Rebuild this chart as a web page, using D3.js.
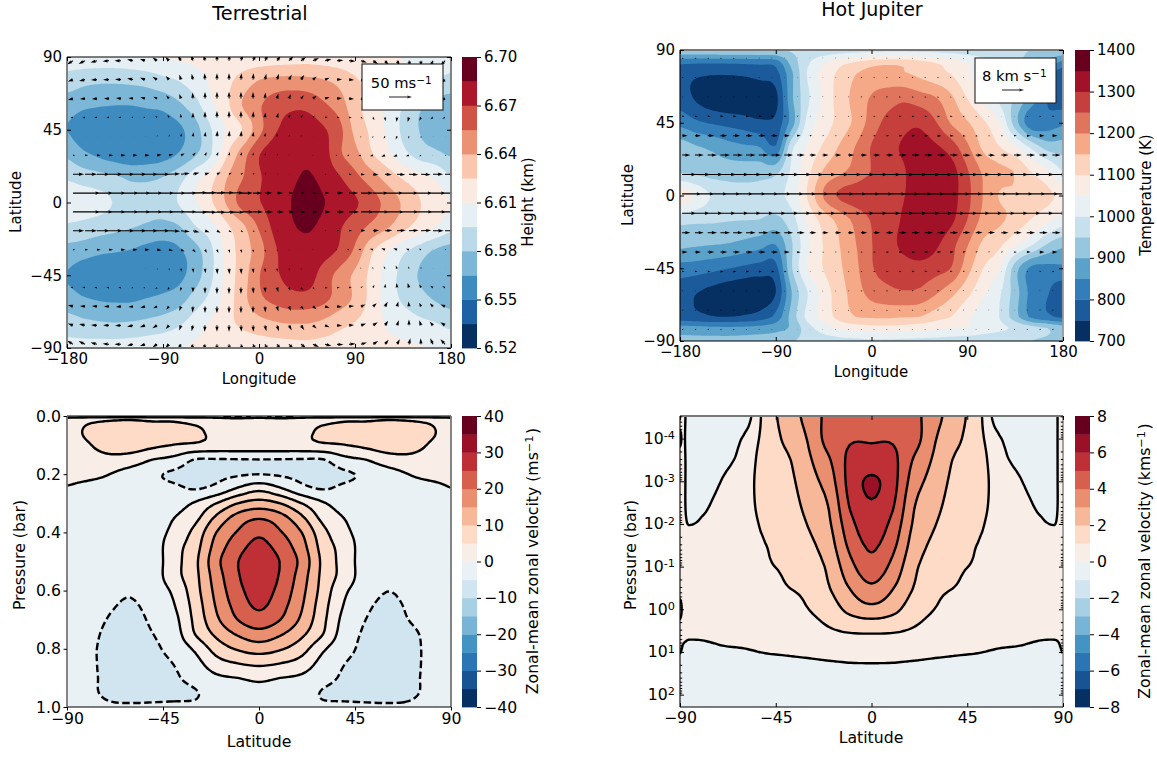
<!DOCTYPE html>
<html>
<head>
<meta charset="utf-8">
<script src="https://cdnjs.cloudflare.com/ajax/libs/d3/7.8.5/d3.min.js"></script>
<style>
body { margin: 0; background: #fff; }
text { font-family: "DejaVu Sans", sans-serif; fill: #000; }
</style>
</head>
<body>
<div id="chart"></div>
<script>
var rdbuStops = ["#053061", "#2166ac", "#4393c3", "#92c5de", "#d1e5f0", "#f7f7f7", "#fddbc7", "#f4a582", "#d6604d", "#b2182b", "#67001f"];

// Terrestrial height field (km), rows from north to south
var terrLevels = [6.52, 6.535, 6.55, 6.565, 6.58, 6.595, 6.61, 6.625, 6.64, 6.655, 6.67, 6.685, 6.70];
var terrGridLon = [-180, -165, -150, -135, -120, -105, -90, -75, -60, -45, -30, -15, 0, 15, 30, 45, 60, 75, 90, 105, 120, 135, 150, 165, 180];
var terrGridLat = [90, 75, 60, 45, 30, 15, 0, -15, -30, -45, -60, -75, -90];
var terrHeight = [
  [6.603,6.604,6.604,6.604,6.605,6.608,6.611,6.612,6.613,6.613,6.614,6.615,6.616,6.617,6.618,6.619,6.618,6.617,6.616,6.614,6.612,6.610,6.608,6.606,6.604],
  [6.588,6.584,6.582,6.582,6.583,6.585,6.590,6.595,6.603,6.612,6.621,6.632,6.641,6.645,6.646,6.645,6.642,6.636,6.627,6.621,6.615,6.608,6.601,6.595,6.589],
  [6.572,6.568,6.566,6.565,6.565,6.567,6.569,6.577,6.589,6.607,6.622,6.641,6.653,6.663,6.667,6.666,6.658,6.648,6.630,6.618,6.607,6.595,6.583,6.574,6.572],
  [6.565,6.556,6.553,6.552,6.552,6.553,6.556,6.562,6.574,6.594,6.612,6.626,6.650,6.668,6.675,6.678,6.672,6.660,6.636,6.622,6.608,6.592,6.580,6.570,6.565],
  [6.577,6.568,6.562,6.557,6.555,6.556,6.559,6.566,6.578,6.594,6.624,6.648,6.669,6.678,6.681,6.682,6.677,6.658,6.645,6.627,6.614,6.600,6.589,6.584,6.578],
  [6.593,6.589,6.586,6.583,6.578,6.578,6.581,6.590,6.605,6.620,6.640,6.655,6.668,6.678,6.682,6.687,6.681,6.672,6.660,6.648,6.635,6.624,6.616,6.609,6.597],
  [6.609,6.604,6.600,6.594,6.588,6.585,6.586,6.596,6.608,6.623,6.642,6.662,6.669,6.678,6.685,6.695,6.686,6.679,6.672,6.662,6.650,6.638,6.626,6.618,6.610],
  [6.592,6.590,6.587,6.584,6.581,6.578,6.576,6.579,6.594,6.604,6.622,6.637,6.657,6.674,6.683,6.687,6.681,6.672,6.662,6.652,6.642,6.630,6.619,6.611,6.600],
  [6.575,6.572,6.568,6.566,6.564,6.560,6.558,6.563,6.574,6.592,6.616,6.632,6.648,6.668,6.677,6.680,6.676,6.668,6.652,6.628,6.612,6.598,6.588,6.578,6.573],
  [6.564,6.556,6.553,6.552,6.552,6.553,6.556,6.561,6.573,6.592,6.616,6.633,6.654,6.667,6.675,6.677,6.664,6.650,6.637,6.621,6.604,6.590,6.579,6.571,6.566],
  [6.572,6.567,6.564,6.563,6.563,6.566,6.569,6.574,6.587,6.600,6.617,6.635,6.651,6.659,6.664,6.664,6.659,6.648,6.637,6.620,6.604,6.593,6.586,6.579,6.574],
  [6.587,6.584,6.582,6.581,6.582,6.584,6.587,6.593,6.603,6.612,6.621,6.628,6.634,6.638,6.640,6.640,6.636,6.629,6.624,6.617,6.609,6.604,6.599,6.596,6.590],
  [6.600,6.600,6.601,6.601,6.602,6.604,6.606,6.609,6.612,6.614,6.615,6.616,6.617,6.618,6.619,6.620,6.619,6.618,6.616,6.615,6.613,6.612,6.611,6.610,6.610]
];

// Terrestrial winds (m/s)
var terrWindLon = [-174.4,-163.1,-151.9,-140.6,-129.4,-118.1,-106.9,-95.6,-84.4,-73.1,-61.9,-50.6,-39.4,-28.1,-16.9,-5.6,5.6,16.9,28.1,39.4,50.6,61.9,73.1,84.4,95.6,106.9,118.1,129.4,140.6,151.9,163.1,174.4];
var terrWindLat = [87.7, 76, 64.3, 52.6, 40.9, 29.2, 17.5, 5.8, -5.8, -17.5, -29.2, -40.9, -52.6, -64.3, -76, -87.7];
var terrWindU = [
  [-13,-14,-14,-14,-14,-13,-11,-10,-8,-7,-4,-3,0,1,4,6,7,8,10,11,13,14,14,14,13,11,8,6,3,-1,-6,-10],
  [-11,-13,-13,-13,-13,-13,-11,-10,-7,-4,-3,-1,0,0,1,1,3,4,6,7,8,10,11,11,11,10,7,4,0,-4,-7,-10],
  [-11,-11,-11,-11,-11,-10,-10,-8,-6,-4,-1,0,0,0,0,0,1,3,4,6,8,10,11,11,10,8,6,3,-1,-4,-7,-10],
  [-6,-6,-6,-6,-6,-4,-4,-4,-3,-1,0,0,0,0,0,1,1,3,3,4,4,6,6,6,4,3,1,-1,-3,-4,-6,-6],
  [1,1,1,1,1,1,1,1,1,1,1,1,1,1,1,1,1,1,1,1,1,1,1,0,-1,-1,-3,-3,-1,0,1,1],
  [5,7,8,9,10,10,10,10,9,8,6,4,3,2,2,1,1,1,1,1,0,-1,-3,-5,-6,-7,-8,-8,-7,-4,-1,3],
  [24,26,28,30,30,30,29,28,24,19,14,10,8,6,5,4,3,2,2,2,2,3,4,6,9,12,15,18,20,21,22,23],
  [60,62,64,66,66,66,65,64,62,58,52,46,38,32,26,20,16,13,10,8,8,10,14,20,27,34,41,47,52,55,57,59],
  [60,62,64,66,66,66,65,64,62,58,52,46,40,34,28,22,18,15,12,10,10,12,16,22,29,36,43,48,53,56,58,59],
  [24,26,28,30,30,30,29,28,24,19,14,10,8,6,5,4,3,2,2,2,2,3,5,7,10,13,16,19,21,22,23,24],
  [5,7,8,9,10,10,10,10,9,8,6,4,3,2,2,1,1,1,1,1,0,-1,-3,-5,-6,-7,-8,-8,-7,-5,-1,3],
  [1,1,1,1,1,1,1,1,1,1,1,1,1,1,1,1,1,1,1,1,1,1,1,0,-1,-1,-3,-3,-1,0,1,1],
  [-6,-6,-6,-6,-6,-4,-4,-4,-3,-1,0,0,0,0,0,1,1,3,3,4,4,6,6,6,4,3,1,-1,-3,-4,-6,-6],
  [-11,-11,-11,-11,-11,-10,-10,-8,-6,-4,-1,0,0,0,0,0,1,3,4,6,8,10,11,11,10,8,6,3,-1,-4,-7,-10],
  [-11,-13,-13,-13,-13,-13,-11,-10,-7,-4,-3,-1,0,0,1,1,3,4,6,7,8,10,11,11,11,10,7,4,0,-4,-7,-10],
  [-13,-14,-14,-14,-14,-13,-11,-10,-8,-7,-4,-3,0,1,4,6,7,8,10,11,13,14,14,14,13,11,8,6,3,-1,-6,-10]
];
var terrWindV = [
  [-8,-7,-4,-1,0,3,4,7,8,11,13,13,14,14,14,13,13,11,10,8,6,4,1,-1,-4,-7,-10,-11,-13,-13,-13,-11],
  [-4,-3,-1,0,1,3,4,6,8,11,13,14,14,14,14,14,13,13,11,10,7,4,1,-1,-4,-7,-10,-11,-13,-11,-8,-7],
  [-3,-1,-1,0,1,1,3,4,7,10,13,14,15,15,15,14,13,11,10,7,6,3,1,-1,-4,-7,-10,-11,-11,-8,-7,-4],
  [-1,-1,0,0,0,1,1,3,6,8,11,13,14,14,14,13,11,10,7,6,4,1,0,-1,-3,-6,-8,-10,-10,-7,-4,-3],
  [0,0,0,0,0,0,1,3,4,7,9,10,12,12,12,10,8,7,4,3,1,0,0,-1,-3,-4,-5,-7,-5,-4,-1,0],
  [0,0,0,0,0,0,0,1,2,4,6,7,7,7,7,6,5,4,2,1,0,0,0,-1,-1,-2,-3,-3,-2,-2,-1,0],
  [0,0,0,0,0,0,0,0,1,2,3,3,4,3,3,2,2,1,0,0,0,0,-1,-1,-1,-1,-1,-1,-1,-1,0,0],
  [0,0,0,0,0,0,0,0,0,1,1,1,1,1,0,0,0,0,0,0,0,0,0,0,0,0,0,0,0,0,0,0],
  [0,0,0,0,0,0,0,0,0,-1,-1,-1,-1,-1,0,0,0,0,0,0,0,0,0,0,0,0,0,0,0,0,0,0],
  [0,0,0,0,0,0,0,0,-1,-2,-3,-3,-4,-3,-3,-2,-2,-1,0,0,0,0,1,1,1,1,1,1,1,1,0,0],
  [0,0,0,0,0,0,0,-1,-2,-4,-6,-7,-7,-7,-7,-6,-5,-4,-2,-1,0,0,0,1,1,2,3,3,2,2,1,0],
  [0,0,0,0,0,0,-1,-3,-4,-7,-9,-10,-12,-12,-12,-10,-8,-7,-4,-3,-1,0,0,1,3,4,5,7,5,4,1,0],
  [1,1,0,0,0,-1,-1,-3,-6,-8,-11,-13,-14,-14,-14,-13,-11,-10,-7,-6,-4,-1,0,1,3,6,8,10,10,7,4,3],
  [3,1,1,0,-1,-1,-3,-4,-7,-10,-13,-14,-15,-15,-15,-14,-13,-11,-10,-7,-6,-3,-1,1,4,7,10,11,11,8,7,4],
  [4,3,1,0,-1,-3,-4,-6,-8,-11,-13,-14,-14,-14,-14,-14,-13,-13,-11,-10,-7,-4,-1,1,4,7,10,11,13,11,8,7],
  [8,7,4,1,0,-3,-4,-7,-8,-11,-13,-13,-14,-14,-14,-13,-13,-11,-10,-8,-6,-4,-1,1,4,7,10,11,13,13,13,11]
];

// Hot Jupiter temperature field (K)
var hotLevels = [700, 750, 800, 850, 900, 950, 1000, 1050, 1100, 1150, 1200, 1250, 1300, 1350, 1400];
var hotGridLon = [-180, -165, -150, -135, -120, -105, -90, -75, -60, -45, -30, -15, 0, 15, 30, 45, 60, 75, 90, 105, 120, 135, 150, 165, 180];
var hotGridLat = [90, 82, 75, 60, 45, 30, 15, 0, -15, -30, -45, -60, -75, -82, -90];
var hotTemperature = [
  [940,942,943,944,945,946,948,955,965,970,975,980,985,986,987,985,985,980,975,970,960,955,950,945,940],
  [810,805,805,805,808,812,820,918,992,1042,1082,1108,1128,1138,1135,1120,1100,1075,1050,1020,990,960,930,890,830],
  [762,755,752,752,755,765,780,890,1005,1068,1112,1149,1170,1170,1158,1140,1120,1100,1060,1020,980,940,890,810,770],
  [775,745,722,712,710,712,735,890,990,1065,1120,1168,1205,1225,1240,1225,1205,1160,1100,1045,990,940,880,800,775],
  [835,810,795,785,775,760,765,875,1018,1072,1118,1163,1222,1265,1285,1290,1255,1195,1155,1108,1055,925,815,820,840],
  [925,905,890,870,858,850,805,985,1055,1108,1155,1202,1253,1285,1305,1320,1308,1275,1210,1140,1102,1058,990,930,925],
  [940,935,928,925,925,928,935,1010,1085,1155,1188,1218,1252,1280,1296,1325,1335,1320,1255,1192,1165,1147,1098,1060,1000],
  [1085,1040,995,975,968,970,985,1020,1105,1205,1258,1275,1285,1292,1298,1325,1335,1320,1265,1198,1148,1140,1125,1110,1090],
  [965,960,957,953,951,949,935,980,1060,1120,1168,1215,1254,1278,1305,1325,1330,1310,1250,1185,1160,1132,1098,1065,1030],
  [915,908,903,898,885,870,853,945,1040,1103,1150,1198,1248,1280,1312,1338,1310,1268,1205,1140,1112,1062,1012,950,915],
  [830,825,815,802,790,780,785,945,1052,1102,1142,1188,1245,1268,1278,1280,1270,1248,1170,1100,1055,925,840,835,840],
  [770,752,735,722,712,712,750,900,1000,1072,1128,1175,1218,1235,1245,1240,1208,1165,1115,1060,1010,925,835,805,770],
  [770,762,752,750,755,770,815,920,1015,1068,1118,1150,1158,1160,1155,1150,1125,1100,1060,1025,1000,920,840,810,790],
  [870,865,862,860,862,868,880,910,980,1025,1058,1072,1080,1082,1078,1070,1060,1052,1045,1025,1010,993,970,950,925],
  [915,915,915,915,918,922,930,945,965,975,982,988,992,992,990,988,985,980,975,970,965,958,950,940,930]
];

// Hot Jupiter winds (hundreds of m/s)
var hotWindLon = [-178,-166,-154,-142,-130,-118,-106,-94,-82,-70,-58,-46,-34,-22,-10,2,14,26,38,50,62,74,86,98,110,122,134,146,158,170];
var hotWindLat = [85, 73, 61, 49, 37, 25, 13, 1, -11, -23, -35, -47, -59, -71, -83];
var hotWindU = [
  [6,6,6,6,6,5,5,4,3,2,2,3,4,5,5,5,5,5,5,5,5,5,4,3,3,3,4,5,6,6],
  [5,6,6,6,6,5,5,4,3,2,2,3,4,5,6,6,6,6,6,6,6,5,4,3,3,3,3,4,5,5],
  [4,5,5,5,5,5,4,3,3,2,3,3,4,5,6,6,7,7,7,7,6,5,4,2,2,1,1,2,3,4],
  [9,10,11,12,12,12,12,11,9,6,4,4,4,5,6,7,8,9,10,10,10,9,7,5,3,2,3,5,7,8],
  [20,22,24,25,25,25,25,24,20,13,8,6,6,6,7,8,10,12,13,14,14,13,10,8,6,7,10,14,18,19],
  [30,32,34,35,35,35,35,34,32,28,24,22,22,22,23,24,26,28,29,30,30,29,27,25,24,26,28,30,30,30],
  [52,55,56,57,57,56,55,54,53,52,50,49,49,49,50,51,52,54,55,56,55,55,54,53,52,52,52,52,52,52],
  [72,73,74,75,75,75,74,74,73,72,71,70,70,70,71,72,73,74,75,75,75,74,73,72,71,71,71,71,71,72],
  [52,55,56,57,57,56,55,54,53,52,50,49,49,49,50,51,52,54,55,56,56,55,54,53,52,52,52,52,52,52],
  [30,32,34,35,35,35,35,34,32,28,24,22,22,22,23,24,26,28,29,30,30,29,27,25,24,26,28,30,30,30],
  [20,22,24,25,25,25,25,24,20,13,8,6,6,6,7,8,10,12,13,14,14,13,10,8,6,7,10,14,18,19],
  [9,10,11,12,12,12,12,11,9,6,4,4,4,5,6,7,8,9,10,10,10,9,7,5,3,2,3,5,7,8],
  [4,5,5,5,5,5,4,3,3,2,3,3,4,5,6,6,7,7,7,7,6,5,4,2,2,1,1,2,3,4],
  [5,6,6,6,6,5,5,4,3,2,2,3,4,5,6,6,6,6,6,6,6,5,4,3,3,3,3,4,5,5],
  [6,6,6,6,6,5,5,4,3,2,2,3,4,5,5,5,5,5,5,5,5,5,4,3,3,3,4,5,6,6]
];
var hotWindV = [
  [-3,-3,-3,-2,-2,-1,0,1,2,2,2,1,1,0,0,0,0,-1,-1,-1,-2,-2,-2,-3,-3,-3,-3,-3,-3,-3],
  [-1,-1,-1,-1,-1,0,0,1,2,2,2,1,0,0,0,0,0,-1,-1,-1,-2,-2,-3,-3,-3,-2,-2,-2,-2,-1],
  [-1,0,0,0,0,0,0,1,2,3,2,2,1,0,0,0,0,-1,-1,-1,-2,-2,-3,-3,-2,-2,-2,-1,-1,-1],
  [0,0,0,0,0,0,0,0,1,2,2,1,1,0,0,0,0,0,-1,-1,-1,-2,-2,-2,-2,-1,-1,0,0,0],
  [0,0,0,0,0,0,0,0,0,1,1,1,0,0,0,0,0,0,0,0,-1,-1,-2,-2,-1,-1,0,0,0,0],
  [0,0,0,0,0,0,0,0,0,0,0,0,0,0,0,0,0,0,0,0,0,0,-1,-1,-1,0,0,0,0,0],
  [0,0,0,0,0,0,0,0,0,0,0,0,0,0,0,0,0,0,0,0,0,0,0,0,0,0,0,0,0,0],
  [0,0,0,0,0,0,0,0,0,0,0,0,0,0,0,0,0,0,0,0,0,0,0,0,0,0,0,0,0,0],
  [0,0,0,0,0,0,0,0,0,0,0,0,0,0,0,0,0,0,0,0,0,0,0,0,0,0,0,0,0,0],
  [0,0,0,0,0,0,0,0,0,0,0,0,0,0,0,0,0,0,0,0,0,0,1,1,1,0,0,0,0,0],
  [0,0,0,0,0,0,0,0,0,-1,-1,-1,0,0,0,0,0,0,0,0,1,1,2,2,1,1,0,0,0,0],
  [0,0,0,0,0,0,0,0,-1,-2,-2,-1,-1,0,0,0,0,0,1,1,1,2,2,2,2,1,1,0,0,0],
  [1,0,0,0,0,0,0,-1,-2,-3,-2,-2,-1,0,0,0,0,1,1,1,2,2,3,3,2,2,2,1,1,1],
  [1,1,1,1,1,0,0,-1,-2,-2,-2,-1,0,0,0,0,0,1,1,1,2,2,3,3,3,2,2,2,2,1],
  [3,3,3,2,2,1,0,-1,-2,-2,-2,-1,-1,0,0,0,0,1,1,1,2,2,2,3,3,3,3,3,3,3]
];

// Terrestrial zonal-mean zonal velocity (m/s), rows by pressure
var terrZonalLevels = [-40, -35, -30, -25, -20, -15, -10, -5, 0, 5, 10, 15, 20, 25, 30, 35, 40];
var terrZonalLines = [-5, 0, 5, 10, 15, 20, 25];
var terrZonalLat = [-90, -80, -70, -60, -50, -40, -30, -20, -10, 0, 10, 20, 30, 40, 50, 60, 70, 80, 90];
var terrZonalP = [0, 0.01, 0.05, 0.1, 0.15, 0.2, 0.25, 0.3, 0.35, 0.4, 0.45, 0.5, 0.55, 0.6, 0.65, 0.7, 0.75, 0.8, 0.85, 0.9, 0.95, 1];
var terrZonal = [
  [-3,-3,-3,-3,-3,-3,-3,-3,-8,-3,-8,-3,-3,-3,-3,-3,-3,-3,-3],
  [2,3.5,4.2,4.5,4,4,3,2,2,2,2,2,3,4,4,4.5,4.2,3.5,2],
  [3,5.8,7.5,8,7,6.5,5.8,3.8,3.8,3.5,3.8,3.8,5.8,6.5,7,8,7.5,5.8,3],
  [3,4.6,7.5,7.5,6,4.9,4.3,3.5,3.5,3.5,3.5,3.5,4.3,4.9,6,7.5,7.5,4.6,3],
  [2,2.5,3.2,2.5,0,-1.5,-5.2,-5.3,-5.2,-5.1,-5.2,-5.3,-5.2,-1.5,0,2.5,3.2,2.5,2],
  [1.2,1,0,-2,-4,-5.8,-6.5,-6,-5.5,-5.05,-5.5,-6,-6.5,-5.8,-4,-2,0,1,1.2],
  [-0.3,-1.2,-1.5,-2.8,-3.2,-4,-5.2,-3.5,0.6,3.7,0.6,-3.5,-5.2,-4,-3.2,-2.8,-1.5,-1.2,-0.1],
  [-1.2,-1.8,-2,-2.8,-2.6,-2,0.5,5,10,12,10,5,0.5,-2,-2.6,-2.8,-2,-1.8,-1.2],
  [-1.5,-2,-2.2,-2.6,-2.2,-0.1,3.5,11,17,19.6,17,11,3.5,-0.1,-2.2,-2.6,-2.2,-2,-1.5],
  [-1.6,-2.1,-2.3,-2.5,-1.8,1.2,6.5,15,20.4,24,20.4,15,6.5,1.2,-1.8,-2.5,-2.3,-2.1,-1.6],
  [-1.7,-2.2,-2.5,-2.5,-2.2,2.8,8,17,23,26.5,23,17,8,2.8,-2.2,-2.5,-2.5,-2.2,-1.7],
  [-1.8,-2.3,-2.8,-2.8,-2.4,3,8.8,18.5,24.8,28.5,24.8,18.5,8.8,3,-2.4,-2.8,-2.8,-2.3,-1.8],
  [-2,-2.4,-3.2,-3.4,-2.4,3,8.6,17.5,24.5,28,24.5,17.5,8.6,3,-2.4,-3.4,-3.2,-2.4,-2],
  [-2.2,-2.8,-3.8,-4.5,-2.6,0.9,8,16.5,23.5,27,23.5,16.5,8,0.9,-2.6,-4.9,-3.8,-2.8,-2.2],
  [-2.4,-3.1,-4.5,-5.5,-3.4,-0.3,7,15.5,22,25.8,22,15.5,7,-0.3,-4,-6,-4.5,-3.1,-2.4],
  [-2.6,-3.3,-5.3,-6.5,-4.2,-1.5,6.2,14,20,23,20,14,6.2,-1.5,-5,-6.5,-5,-3.3,-2.6],
  [-2.8,-3.8,-6,-7,-5.1,-2.5,5,11,15.5,18,15.5,11,5,-2.5,-5.6,-7,-6,-4,-2.8],
  [-3,-4.2,-6.2,-7,-5.8,-3.5,0.8,7,10.5,12.2,10.5,7,0.8,-3.5,-6,-7,-6.2,-4.2,-3],
  [-3.2,-4.2,-6.2,-7,-6.3,-4.9,-1.8,3,5,6,5,3,-1.8,-4.9,-6.3,-7,-6.2,-4.2,-3.2],
  [-3.3,-4.2,-6,-7,-6.5,-5.6,-3.5,-0.9,0,1,0,-0.9,-3.5,-5.6,-6.5,-7,-6,-4.2,-3.3],
  [-3.4,-4.1,-6,-7,-6.5,-6,-5.3,-3,-2.5,-2,-2.5,-3,-5.3,-6,-6.5,-7,-6,-4.1,-3.4],
  [-3.5,-3.5,-4.4,-4.4,-4.4,-4.4,-4.5,-4.5,-4,-4,-4,-4.5,-4.5,-4.4,-4.4,-4.4,-4.4,-3.5,-3.5]
];

// Hot Jupiter zonal-mean zonal velocity (km/s), rows by log10 pressure
var hotZonalLevels = [-8, -7, -6, -5, -4, -3, -2, -1, 0, 1, 2, 3, 4, 5, 6, 7, 8];
var hotZonalLines = [0, 1, 2, 3, 4, 5, 6];
var hotZonalLat = [-90, -88, -86, -80, -70, -60, -50, -40, -30, -20, -10, 0, 10, 20, 30, 40, 50, 60, 70, 80, 86, 88, 90];
var hotZonalLogP = [-4.53, -4, -3.5, -3, -2.5, -2, -1.5, -1, -0.5, 0, 0.5, 1, 1.5, 2, 2.29];
var hotZonal = [
  [0.2,0.15,-0.5,-0.9,-0.8,-0.6,1.35,2.4,3.3,4.3,4.6,4.6,4.6,4.3,3.3,2.4,1.35,-0.6,-0.8,-0.9,-0.5,0.15,0.2],
  [1.3,0.15,-0.5,-0.9,-0.6,0.1,1.35,2.2,3.05,4.4,4.9,4.9,4.9,4.4,3.05,2.2,1.35,0.1,-0.6,-0.9,-0.5,0.15,0.2],
  [0.2,0.15,-0.5,-0.8,-0.25,0.3,1.5,1.85,2.8,3.9,5.25,5.45,5.25,3.9,2.8,1.85,1.5,0.3,-0.25,-0.8,-0.5,0.15,0.2],
  [0.2,0.15,-0.5,-0.6,0.05,0.45,1.55,1.7,2.55,3.5,5.35,6.15,5.35,3.5,2.55,1.7,1.55,0.45,0.05,-0.6,-0.5,0.15,0.2],
  [0.2,0.15,-0.5,-0.25,0.3,0.5,1.45,1.55,2.3,3.1,5.15,5.95,5.15,3.1,2.3,1.55,1.45,0.5,0.3,-0.25,-0.5,0.15,0.2],
  [0.2,0.15,-0.02,0.1,0.4,0.5,1.2,1.4,2.03,2.85,4.7,5.6,4.7,2.85,2.03,1.4,1.2,0.5,0.4,0.1,-0.02,0.15,0.2],
  [0.2,0.2,0.3,0.3,0.4,0.45,0.98,1.25,1.75,2.55,4.25,5.15,4.25,2.55,1.75,1.25,0.98,0.45,0.4,0.3,0.3,0.2,0.2],
  [0.2,0.2,0.3,0.3,0.35,0.4,0.9,1.1,1.5,2.2,3.7,4.65,3.7,2.2,1.5,1.1,0.9,0.4,0.35,0.3,0.3,0.2,0.2],
  [0.2,0.2,0.3,0.3,0.3,0.3,0.7,0.97,1.2,1.95,3.05,3.8,3.05,1.95,1.2,0.97,0.7,0.3,0.3,0.3,0.3,0.2,0.2],
  [1.5,0.2,0.25,0.25,0.25,0.25,0.35,0.65,0.98,1.45,2.3,2.7,2.3,1.45,0.98,0.65,0.35,0.25,0.25,0.25,0.25,0.2,0.2],
  [0.15,0.1,0.1,0.15,0.2,0.2,0.25,0.4,0.6,0.9,1.1,1.15,1.1,0.9,0.6,0.4,0.25,0.2,0.2,0.15,0.1,0.1,0.15],
  [0.02,-0.1,-0.15,-0.2,-0.1,-0.05,0.02,0.07,0.15,0.25,0.32,0.35,0.32,0.25,0.15,0.07,0.02,-0.05,-0.1,-0.2,-0.15,-0.1,0.02],
  [-0.4,-0.4,-0.4,-0.4,-0.45,-0.4,-0.35,-0.35,-0.35,-0.3,-0.25,-0.25,-0.25,-0.3,-0.35,-0.35,-0.35,-0.4,-0.45,-0.4,-0.4,-0.4,-0.4],
  [-0.5,-0.5,-0.5,-0.5,-0.5,-0.5,-0.5,-0.5,-0.5,-0.5,-0.5,-0.5,-0.5,-0.5,-0.5,-0.5,-0.5,-0.5,-0.5,-0.5,-0.5,-0.5,-0.5],
  [-0.5,-0.5,-0.5,-0.5,-0.5,-0.5,-0.5,-0.5,-0.5,-0.5,-0.5,-0.5,-0.5,-0.5,-0.5,-0.5,-0.5,-0.5,-0.5,-0.5,-0.5,-0.5,-0.5]
];

var lonTicks = [-180, -90, 0, 90, 180];
var latTicks = [90, 45, 0, -45, -90];
var zonalLatTicks = [-90, -45, 0, 45, 90];
var pressureTicks = [0, 0.2, 0.4, 0.6, 0.8, 1];
var hotPressureTicks = [1e-4, 1e-3, 1e-2, 1e-1, 1, 10, 100];
var terrBarTicks = [6.52, 6.55, 6.58, 6.61, 6.64, 6.67, 6.70];
var hotBarTicks = [700, 800, 900, 1000, 1100, 1200, 1300, 1400];
var terrZonalBarTicks = [-40, -30, -20, -10, 0, 10, 20, 30, 40];
var hotZonalBarTicks = [-8, -6, -4, -2, 0, 2, 4, 6, 8];

var tickFont = 15;
var svg = d3.select("#chart").append("svg").attr("width", 1157).attr("height", 757);

var colorAt = d3.scaleLinear().domain(rdbuStops.map((c, i) => i / 10)).range(rdbuStops);
var bandColor = (k, levels) => colorAt(k / (levels.length - 2));

var clipCount = 0;
function clipTo(x, y) {
  var id = "clip" + (clipCount++);
  svg.append("clipPath").attr("id", id).append("rect")
    .attr("x", x.range()[0]).attr("y", Math.min(y.range()[0], y.range()[1]))
    .attr("width", x.range()[1] - x.range()[0]).attr("height", Math.abs(y.range()[1] - y.range()[0]));
  return svg.append("g").attr("clip-path", "url(#" + id + ")");
}

// smooth resampling of the read grid so contours come out round, never past the cell's corner values
var fine = 5, pad = 3;
function cubic(a, b, c, d, t) {
  return b + 0.5 * t * (c - a + t * (2 * a - 5 * b + 4 * c - d + t * (3 * (b - c) + d - a)));
}
function sampleField(field, fx, fy) {
  var n = field[0].length, m = field.length;
  var i = Math.min(n - 2, Math.floor(fx)), j = Math.min(m - 2, Math.floor(fy));
  var tx = fx - i, ty = fy - j;
  var at = (a, b) => field[Math.max(0, Math.min(m - 1, b))][Math.max(0, Math.min(n - 1, a))];
  var rows = [-1, 0, 1, 2].map(dj => cubic(at(i - 1, j + dj), at(i, j + dj), at(i + 1, j + dj), at(i + 2, j + dj), tx));
  var v = cubic(rows[0], rows[1], rows[2], rows[3], ty);
  var corners = [at(i, j), at(i + 1, j), at(i, j + 1), at(i + 1, j + 1)];
  return Math.max(d3.min(corners), Math.min(d3.max(corners), v));
}

// contours on a (possibly uneven) grid; padded so rings close outside the axes
function fieldRings(field, xs, ys, thresholds, px, py) {
  var n = (xs.length - 1) * fine + 1, m = (ys.length - 1) * fine + 1, flat = [];
  for (var j = -pad; j < m + pad; j++) {
    for (var i = -pad; i < n + pad; i++) {
      flat.push(sampleField(field, Math.max(0, Math.min(n - 1, i)) / fine, Math.max(0, Math.min(m - 1, j)) / fine));
    }
  }
  var ix = d3.scaleLinear().domain(d3.range(xs.length)).range(xs);
  var iy = d3.scaleLinear().domain(d3.range(ys.length)).range(ys);
  var line = d3.line()
    .x(c => px(ix((c[0] - 0.5 - pad) / fine)))
    .y(c => py(iy((c[1] - 0.5 - pad) / fine)))
    .curve(d3.curveCatmullRomClosed.alpha(0.5));
  var contours = d3.contours().size([n + 2 * pad, m + 2 * pad]).thresholds(thresholds)(flat);
  return contours.map(c => ({
    value: c.value,
    d: c.coordinates.map(poly => poly.map(ring => line(ring.slice(0, -1))).join("")).join("")
  }));
}

function drawBands(g, field, xs, ys, levels, px, py) {
  g.append("rect").attr("x", 0).attr("y", 0).attr("width", 1157).attr("height", 757).attr("fill", bandColor(0, levels));
  var rings = fieldRings(field, xs, ys, levels.slice(1, -1), px, py);
  g.selectAll(null).data(rings).enter().append("path")
    .attr("d", d => d.d)
    .attr("fill-rule", "evenodd")
    .attr("fill", (d, i) => bandColor(i + 1, levels));
}

function drawLines(g, field, xs, ys, lines, px, py) {
  var rings = fieldRings(field, xs, ys, lines, px, py);
  g.selectAll(null).data(rings).enter().append("path")
    .attr("d", d => d.d)
    .attr("fill", "none")
    .attr("stroke", "#000")
    .attr("stroke-width", 2.4)
    .attr("stroke-dasharray", d => d.value < 0 ? "7.5,3.5" : null);
}

// quiver arrow, same proportions as a matplotlib one
function arrow(ctx, x0, y0, dx, dy, w) {
  var len = Math.hypot(dx, dy);
  if (len < 0.4) {
    ctx.moveTo(x0 + 0.4, y0);
    ctx.arc(x0, y0, 0.4, 0, 2 * Math.PI);
    return;
  }
  var k = Math.min(1, len / (5 * w));
  var hl = 5 * w * k, ha = 4.5 * w * k, hw = 1.6 * w * k, sw = 0.5 * w * k;
  var c = dx / len, s = dy / len;
  var pts = [[0, sw], [len - ha, sw], [len - hl, hw], [len, 0], [len - hl, -hw], [len - ha, -sw], [0, -sw]];
  pts.forEach((p, i) => {
    var X = x0 + p[0] * c - p[1] * s, Y = y0 + p[0] * s + p[1] * c;
    if (i === 0) ctx.moveTo(X, Y); else ctx.lineTo(X, Y);
  });
  ctx.closePath();
}

function drawQuiver(g, lons, lats, us, vs, x, y, wind) {
  var ctx = d3.path();
  lats.forEach((lat, j) => {
    lons.forEach((lon, i) => {
      arrow(ctx, x(lon), y(lat), wind(us[j][i]), -wind(vs[j][i]), 1.05);
    });
  });
  g.append("path").attr("d", ctx.toString()).attr("fill", "#000");
}

function addSup(sel, parts) {
  parts.forEach(p => {
    if (p.sup) {
      sel.append("tspan").attr("dy", "-0.42em").attr("font-size", "0.72em").text(p.sup);
      sel.append("tspan").attr("dy", "0.3em").attr("font-size", "1em").text("\u200a");
    } else {
      sel.append("tspan").text(p.t);
    }
  });
}

function spines(x, y, colors) {
  var x0 = x.range()[0], x1 = x.range()[1], y0 = Math.min(y.range()[0], y.range()[1]), y1 = Math.max(y.range()[0], y.range()[1]);
  var segs = [[x0, y0, x1, y0], [x1, y0, x1, y1], [x0, y1, x1, y1], [x0, y0, x0, y1]];
  svg.append("g").selectAll("line").data(segs).enter().append("line")
    .attr("x1", d => d[0]).attr("y1", d => d[1]).attr("x2", d => d[2]).attr("y2", d => d[3])
    .attr("stroke", (d, i) => colors[i])
    .attr("stroke-width", (d, i) => colors[i] === "#000" ? 1.1 : 1.8);
}

function styleAxis(g) {
  g.select(".domain").remove();
  g.selectAll(".tick line").attr("stroke", "#000").attr("stroke-width", 1);
  g.selectAll(".tick text").attr("font-size", tickFont).attr("font-family", "DejaVu Sans");
}

function insideAxes(x, y, xVals, yVals, yFormat) {
  var b = y.range()[0], t = y.range()[1], l = x.range()[0], r = x.range()[1];
  svg.append("g").attr("transform", "translate(0," + b + ")")
    .call(d3.axisBottom(x).tickValues(xVals).tickSize(-4).tickPadding(5).tickFormat(d3.format("d"))).call(styleAxis);
  svg.append("g").attr("transform", "translate(0," + t + ")")
    .call(d3.axisTop(x).tickValues(xVals).tickSize(-4).tickFormat("")).call(styleAxis);
  svg.append("g").attr("transform", "translate(" + l + ",0)")
    .call(d3.axisLeft(y).tickValues(yVals).tickSize(-4).tickPadding(5).tickFormat(yFormat)).call(styleAxis);
  svg.append("g").attr("transform", "translate(" + r + ",0)")
    .call(d3.axisRight(y).tickValues(yVals).tickSize(-4).tickFormat("")).call(styleAxis);
}

function colorbar(left, top, bottom, levels, ticks, format) {
  var cy = d3.scaleLinear().domain([levels[0], levels[levels.length - 1]]).range([bottom, top]);
  svg.append("g").selectAll("rect").data(levels.slice(0, -1)).enter().append("rect")
    .attr("x", left).attr("width", 15)
    .attr("y", (d, i) => cy(levels[i + 1]))
    .attr("height", (d, i) => cy(levels[i]) - cy(levels[i + 1]) + 0.4)
    .attr("fill", (d, i) => bandColor(i, levels));
  svg.append("g").attr("transform", "translate(" + (left + 15) + ",0)")
    .call(d3.axisRight(cy).tickValues(ticks).tickSize(4).tickPadding(3).tickFormat(format)).call(styleAxis);
}

function label(x, y, text, rotate, size) {
  var t = svg.append("text").attr("text-anchor", "middle").attr("font-size", size || tickFont)
    .attr("transform", "translate(" + x + "," + y + ")" + (rotate ? " rotate(-90)" : ""));
  if (typeof text === "string") t.text(text); else addSup(t, text);
  return t;
}

function quiverKey(x, y, w, h, text, tx, ty, ax, ay, len) {
  svg.append("rect").attr("x", x).attr("y", y).attr("width", w).attr("height", h)
    .attr("fill", "#fff").attr("stroke", "#222").attr("stroke-width", 1.1);
  var t = svg.append("text").attr("x", tx).attr("y", ty).attr("text-anchor", "middle").attr("font-size", 14.7);
  addSup(t, text);
  var ctx = d3.path();
  arrow(ctx, ax, ay, len, 0, 0.95);
  svg.append("path").attr("d", ctx.toString()).attr("fill", "#222");
}

// top left: terrestrial height and winds
(function () {
  var x = d3.scaleLinear().domain([-180, 180]).range([67, 451]);
  var y = d3.scaleLinear().domain([-90, 90]).range([348, 57]);
  var wind = d3.scaleLinear().domain([0, 50]).range([0, 23]);
  var g = clipTo(x, y);
  drawBands(g, terrHeight, terrGridLon, terrGridLat, terrLevels, x, y);
  drawQuiver(g, terrWindLon, terrWindLat, terrWindU, terrWindV, x, y, wind);
  spines(x, y, ["#000", "#777", "#777", "#777"]);
  insideAxes(x, y, lonTicks, latTicks, d3.format("d"));
  colorbar(462, 57, 348, terrLevels, terrBarTicks, d3.format(".2f"));
  quiverKey(362, 64, 81, 46, [{ t: "50 ms" }, { sup: "\u22121" }], 402, 88, 389, 97, wind(50));
  label(260, 20, "Terrestrial", false, 19.3);
  label(259, 384, "Longitude");
  label(21, 202, "Latitude", true);
  label(533, 202, "Height (km)", true);
})();

// top right: hot Jupiter temperature and winds
(function () {
  var x = d3.scaleLinear().domain([-180, 180]).range([680, 1063]);
  var y = d3.scaleLinear().domain([-90, 90]).range([341, 50]);
  var wind = d3.scaleLinear().domain([0, 80]).range([0, 22]);
  var g = clipTo(x, y);
  drawBands(g, hotTemperature, hotGridLon, hotGridLat, hotLevels, x, y);
  drawQuiver(g, hotWindLon, hotWindLat, hotWindU, hotWindV, x, y, wind);
  spines(x, y, ["#777", "#999", "#000", "#000"]);
  insideAxes(x, y, lonTicks, latTicks, d3.format("d"));
  colorbar(1075, 50, 341, hotLevels, hotBarTicks, d3.format("d"));
  quiverKey(975, 58, 81, 45, [{ t: "8 km s" }, { sup: "\u22121" }], 1015, 81, 1002, 90, wind(80));
  label(872, 16, "Hot Jupiter", false, 19);
  label(871, 377, "Longitude");
  label(633, 195, "Latitude", true);
  label(1151, 195, "Temperature (K)", true);
})();

tickFont = 15.7;

// bottom left: terrestrial zonal-mean wind
(function () {
  var x = d3.scaleLinear().domain([-90, 90]).range([67, 451]);
  var y = d3.scaleLinear().domain([0, 1]).range([416, 707]);
  var g = clipTo(x, y);
  drawBands(g, terrZonal, terrZonalLat, terrZonalP, terrZonalLevels, x, y);
  drawLines(g, terrZonal, terrZonalLat, terrZonalP, terrZonalLines, x, y);
  spines(x, y, ["#000", "#777", "#000", "#777"]);
  svg.append("g").attr("transform", "translate(0,707)")
    .call(d3.axisBottom(x).tickValues(zonalLatTicks).tickSize(3.5).tickPadding(2.5).tickFormat(d3.format("d"))).call(styleAxis);
  svg.append("g").attr("transform", "translate(67,0)")
    .call(d3.axisLeft(y).tickValues(pressureTicks).tickSize(3.5).tickPadding(2.5).tickFormat(d3.format(".1f"))).call(styleAxis);
  colorbar(462, 416, 707, terrZonalLevels, terrZonalBarTicks, d3.format("d"));
  label(259, 747, "Latitude");
  label(25, 555, "Pressure (bar)", true);
  label(538, 561, [{ t: "Zonal-mean zonal velocity (ms" }, { sup: "\u22121" }, { t: ")" }], true);
})();

// bottom right: hot Jupiter zonal-mean wind
(function () {
  var x = d3.scaleLinear().domain([-90, 90]).range([680, 1063]);
  var yLog = d3.scaleLog().domain([Math.pow(10, -4.53), Math.pow(10, 2.29)]).range([416, 707]);
  var y = v => yLog(Math.pow(10, v));
  var frame = d3.scaleLinear().domain([0, 1]).range([707, 416]);
  var g = clipTo(x, frame);
  drawBands(g, hotZonal, hotZonalLat, hotZonalLogP, hotZonalLevels, x, y);
  drawLines(g, hotZonal, hotZonalLat, hotZonalLogP, hotZonalLines, x, y);
  spines(x, frame, ["#777", "#999", "#000", "#000"]);
  svg.append("g").attr("transform", "translate(0,707)")
    .call(d3.axisBottom(x).tickValues(zonalLatTicks).tickSize(-4).tickPadding(5).tickFormat(d3.format("d"))).call(styleAxis);
  svg.append("g").attr("transform", "translate(0,416)")
    .call(d3.axisTop(x).tickValues(zonalLatTicks).tickSize(-4).tickFormat("")).call(styleAxis);
  var minor = [];
  hotPressureTicks.concat([1e-5]).forEach(p => [2, 3, 4, 5, 6, 7, 8, 9].forEach(m => {
    var v = p * m;
    if (v > yLog.domain()[0] && v < yLog.domain()[1]) minor.push(v);
  }));
  [[d3.axisLeft, 680], [d3.axisRight, 1063]].forEach(a => {
    svg.append("g").attr("transform", "translate(" + a[1] + ",0)")
      .call(a[0](yLog).tickValues(minor).tickSize(-2.2).tickFormat("")).call(styleAxis);
    svg.append("g").attr("transform", "translate(" + a[1] + ",0)")
      .call(a[0](yLog).tickValues(hotPressureTicks).tickSize(-4).tickPadding(5).tickFormat(a[1] === 680 ? d3.format("d") : "")).call(styleAxis);
  });
  svg.selectAll(".tick text").filter(function (d) { return hotPressureTicks.indexOf(d) >= 0 && this.textContent !== "" && d3.select(this.parentNode.parentNode).attr("transform") === "translate(680,0)"; })
    .each(function (d) {
      var t = d3.select(this).text(null);
      t.append("tspan").text("10");
      t.append("tspan").attr("dy", "-0.42em").attr("font-size", "0.72em").text(Math.round(Math.log10(d)));
    });
  colorbar(1075, 416, 707, hotZonalLevels, hotZonalBarTicks, d3.format("d"));
  label(871, 743, "Latitude");
  label(636, 555, "Pressure (bar)", true);
  label(1150, 561, [{ t: "Zonal-mean zonal velocity (kms" }, { sup: "\u22121" }, { t: ")" }], true);
})();
</script>
</body>
</html>
